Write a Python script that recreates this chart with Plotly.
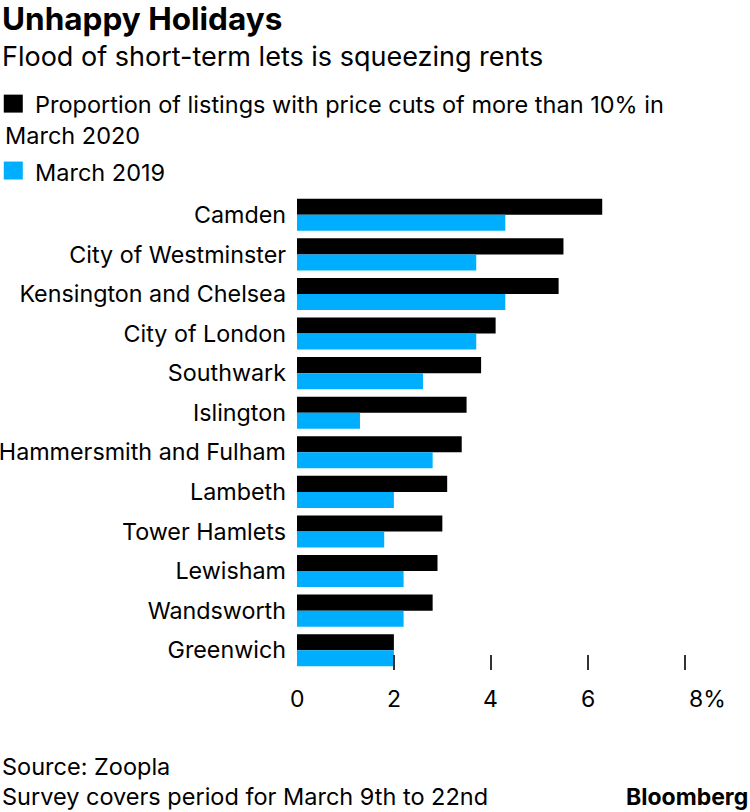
import plotly.graph_objects as go

categories = ["Camden", "City of Westminster", "Kensington and Chelsea", "City of London",
              "Southwark", "Islington", "Hammersmith and Fulham", "Lambeth",
              "Tower Hamlets", "Lewisham", "Wandsworth", "Greenwich"]
march_2020 = [6.3, 5.5, 5.4, 4.1, 3.8, 3.5, 3.4, 3.1, 3.0, 2.9, 2.8, 2.0]
march_2019 = [4.3, 3.7, 4.3, 3.7, 2.6, 1.3, 2.8, 2.0, 1.8, 2.2, 2.2, 2.0]
tick_vals = [0, 2, 4, 6, 8]
tick_text = ["0", "2", "4", "6", "8%"]

series_2020_name = "Proportion of listings with price cuts of more than 10% in March 2020"
series_2019_name = "March 2019"

W, H = 750, 812
X_MAX = 8.05
L, R, T, B = 297, 63.3, 194.5, 141.9
PW, PH = W - L - R, H - T - B
FONT = "Inter"
BLACK = "#000000"
BLUE = "#00aeff"


def px(x):
    return (x - L) / PW


def py(y):
    return (H - B - y) / PH


fig = go.Figure()
fig.add_trace(go.Bar(y=categories, x=march_2020, orientation="h", name=series_2020_name,
                     marker=dict(color=BLACK, line=dict(width=0))))
fig.add_trace(go.Bar(y=categories, x=march_2019, orientation="h", name=series_2019_name,
                     marker=dict(color=BLUE, line=dict(width=0))))

ann = []
# title & subtitle
ann.append(dict(text="<b>Unhappy Holidays</b>", x=px(0), y=py(18), xanchor="left", yanchor="middle",
                font=dict(family=FONT, size=31.5, color="#000")))
ann.append(dict(text="Flood of short-term lets is squeezing rents", x=px(0), y=py(56), xanchor="left",
                yanchor="middle", font=dict(family=FONT, size=27, color="#000")))
# legend text
ann.append(dict(text="Proportion of listings with price cuts of more than 10% in", x=px(33), y=py(104),
                xanchor="left", yanchor="middle", font=dict(family=FONT, size=23.5, color="#000")))
ann.append(dict(text="March 2020", x=px(3), y=py(135), xanchor="left", yanchor="middle",
                font=dict(family=FONT, size=23.5, color="#000")))
ann.append(dict(text=series_2019_name, x=px(33), y=py(172), xanchor="left", yanchor="middle",
                font=dict(family=FONT, size=23.5, color="#000")))
# x tick labels
for v, t in zip(tick_vals, tick_text):
    if t.endswith("%"):
        ann.append(dict(text=t, x=v, xref="x", y=py(699), yref="paper", xanchor="left", xshift=2,
                        yanchor="middle", showarrow=False, font=dict(family=FONT, size=23, color="#000")))
    else:
        ann.append(dict(text=t, x=v, xref="x", y=py(699), yref="paper", xanchor="center",
                        yanchor="middle", showarrow=False, font=dict(family=FONT, size=23, color="#000")))
# footer
ann.append(dict(text="Source: Zoopla", x=px(0), y=py(767), xanchor="left", yanchor="middle",
                font=dict(family=FONT, size=23.5, color="#000")))
ann.append(dict(text="Survey covers period for March 9th to 22nd", x=px(0), y=py(797), xanchor="left",
                yanchor="middle", font=dict(family=FONT, size=23.5, color="#000")))
ann.append(dict(text="<b>Bloomberg</b>", x=px(750), y=py(797), xanchor="right", yanchor="middle",
                font=dict(family=FONT, size=23, color="#000")))
for a in ann:
    a.setdefault("xref", "paper")
    a.setdefault("yref", "paper")
    a.setdefault("showarrow", False)

shapes = [
    dict(type="rect", xref="paper", yref="paper", x0=px(4), x1=px(23), y0=py(94), y1=py(112),
         fillcolor=BLACK, line=dict(width=0)),
    dict(type="rect", xref="paper", yref="paper", x0=px(4), x1=px(23), y0=py(161), y1=py(179),
         fillcolor=BLUE, line=dict(width=0)),
]

fig.update_layout(
    width=W, height=H, autosize=False,
    margin=dict(l=L, r=R, t=T, b=B, pad=0, autoexpand=False),
    paper_bgcolor="white", plot_bgcolor="white",
    barmode="group", bargap=0.19, bargroupgap=0,
    showlegend=False,
    annotations=ann, shapes=shapes,
    font=dict(family=FONT, color="#000"),
)
fig.update_xaxes(range=[0, X_MAX], tickvals=[2, 4, 6, 8], showticklabels=False, ticks="inside",
                 ticklen=15, tickwidth=1.5, tickcolor="#333", showgrid=False, zeroline=False,
                 showline=False, fixedrange=True, automargin=False)
fig.update_yaxes(autorange="reversed", showgrid=False, zeroline=False, showline=False, ticks="",
                 ticklabelstandoff=10, tickfont=dict(family=FONT, size=23.3, color="#000"),
                 fixedrange=True, automargin=False)

fig.write_html("out.html", config={"displayModeBar": False},
               post_script="document.body.style.margin='0';document.body.style.padding='0';")
